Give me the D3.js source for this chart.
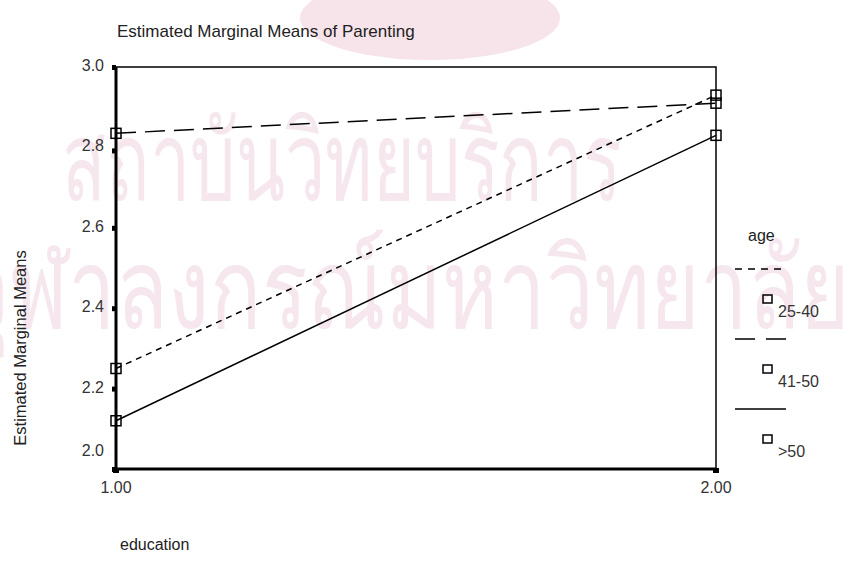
<!DOCTYPE html>
<html>
<head>
<meta charset="utf-8">
<script src="https://cdn.jsdelivr.net/npm/d3@7"></script>
<style>
  body { margin: 0; background: #fff; }
  text { font-family: "Liberation Sans", Arial, sans-serif; }
</style>
</head>
<body>
<script>
// data
var education = [1.00, 2.00];
var ages = ["25-40", "41-50", ">50"];
var means2540 = [2.25, 2.93];
var means4150 = [2.835, 2.91];
var means50 = [2.12, 2.83];
var yTicks = [3.0, 2.8, 2.6, 2.4, 2.2, 2.0];
var xTicks = [1.00, 2.00];

var series = [
  {name: ages[0], values: means2540, dash: "6,5"},
  {name: ages[1], values: means4150, dash: "20,9"},
  {name: ages[2], values: means50, dash: null}
];

var width = 868, height = 563;

var svg = d3.select("body").append("svg")
    .attr("width", width)
    .attr("height", height);

// watermark behind the chart
var wm = svg.append("g").attr("fill", "#f6e6ed")
    .style("font-family", "'Noto Sans Thai', 'Noto Sans', 'DejaVu Sans', sans-serif");
wm.append("ellipse").attr("cx", 430).attr("cy", 18).attr("rx", 130).attr("ry", 42).attr("fill", "#f6e4ea");
wm.append("text").attr("x", 62).attr("y", 200).attr("font-size", 110)
    .attr("textLength", 560).attr("lengthAdjust", "spacingAndGlyphs")
    .text("สถาบันวิทยบริการ");
wm.append("text").attr("x", -40).attr("y", 328).attr("font-size", 112)
    .attr("textLength", 890).attr("lengthAdjust", "spacingAndGlyphs")
    .text("จุฬาลงกรณ์มหาวิทยาลัย");

// scales
var x = d3.scaleLinear().domain([1, 2]).range([116, 716]);
var y = d3.scaleLinear().domain([2, 3]).range([469, 67]);

// frame: thin top and right, thick left and bottom
svg.append("rect")
    .attr("x", x(1)).attr("y", y(3))
    .attr("width", x(2) - x(1)).attr("height", y(2) - y(3))
    .attr("fill", "none").attr("stroke", "#000").attr("stroke-width", 1.5);

svg.append("line")
    .attr("x1", x(1)).attr("x2", x(1)).attr("y1", y(3)).attr("y2", y(2) + 2)
    .attr("stroke", "#000").attr("stroke-width", 3);
svg.append("line")
    .attr("x1", x(1)).attr("x2", x(2)).attr("y1", y(2)).attr("y2", y(2))
    .attr("stroke", "#000").attr("stroke-width", 3);

// tick dots on left axis
svg.selectAll(".ytick").data(yTicks).enter().append("rect")
    .attr("x", x(1) - 4).attr("y", d => y(d) + (d == 2.8 ? 1 : -2))
    .attr("width", 4).attr("height", 5).attr("fill", "#000");
svg.selectAll(".xtick").data(xTicks).enter().append("rect")
    .attr("x", d => x(d) - 3).attr("y", y(2) - 1)
    .attr("width", 6).attr("height", 5).attr("fill", "#000");

// y tick labels (the 2.0 label sits above the corner)
svg.selectAll(".ylab").data(yTicks).enter().append("text")
    .attr("x", x(1) - 12)
    .attr("y", d => d == 2.0 ? y(d) - 13 : y(d) + 4)
    .attr("text-anchor", "end")
    .attr("font-size", 16).attr("fill", "#333")
    .text(d => d.toFixed(1));

svg.selectAll(".xlab").data(xTicks).enter().append("text")
    .attr("x", d => x(d))
    .attr("y", y(2) + 24)
    .attr("text-anchor", "middle")
    .attr("font-size", 16).attr("fill", "#333")
    .text(d => d.toFixed(2));

// titles
svg.append("text").attr("x", 117).attr("y", 37)
    .attr("font-size", 17).attr("fill", "#222")
    .text("Estimated Marginal Means of Parenting");
svg.append("text").attr("x", 120).attr("y", 550)
    .attr("font-size", 16).attr("fill", "#222")
    .text("education");
svg.append("text")
    .attr("transform", "translate(26,348) rotate(-90)")
    .attr("text-anchor", "middle")
    .attr("font-size", 16.5).attr("fill", "#222")
    .text("Estimated Marginal Means");

// lines
var line = d3.line().x((d, i) => x(education[i])).y(d => y(d));
svg.selectAll(".series").data(series).enter().append("path")
    .attr("d", d => line(d.values))
    .attr("fill", "none").attr("stroke", "#000").attr("stroke-width", 1.5)
    .attr("stroke-dasharray", d => d.dash);

// hollow square markers
series.forEach(function(s) {
  svg.selectAll(null).data(s.values).enter().append("rect")
      .attr("x", (d, i) => x(education[i]) - 5)
      .attr("y", d => y(d) - 5)
      .attr("width", 10).attr("height", 10)
      .attr("fill", "none").attr("stroke", "#000").attr("stroke-width", 1.5);
});

// legend
var lg = svg.append("g");
var lx = x(2);
lg.append("text").attr("x", lx + 32).attr("y", 241)
    .attr("font-size", 16).attr("fill", "#222").text("age");
var legY = d3.scaleBand().domain(ages).range([253, 463]);
series.forEach(function(s) {
  var top = legY(s.name);
  lg.append("line")
      .attr("x1", lx + 19).attr("x2", lx + 70)
      .attr("y1", top + 16).attr("y2", top + 16)
      .attr("stroke", "#000").attr("stroke-width", 1.5)
      .attr("stroke-dasharray", s.name == ages[0] ? "7,6" : (s.name == ages[1] ? "20,11" : null));
  lg.append("rect")
      .attr("x", lx + 47).attr("y", top + 42)
      .attr("width", 9).attr("height", 8)
      .attr("fill", "none").attr("stroke", "#000").attr("stroke-width", 1.5);
  lg.append("text")
      .attr("x", lx + 62).attr("y", top + 64)
      .attr("font-size", 16).attr("fill", "#333")
      .text(s.name);
});
</script>
</body>
</html>
